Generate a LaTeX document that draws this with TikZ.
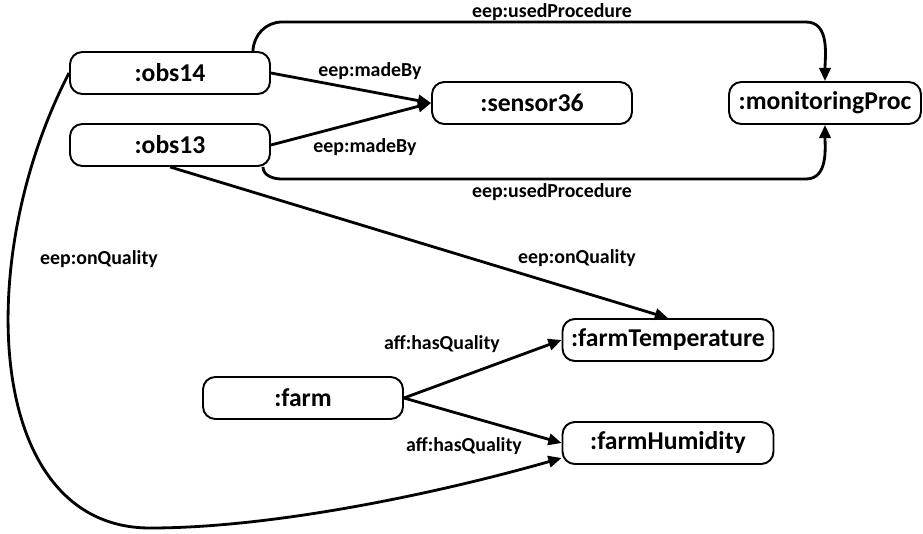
\documentclass[tikz,border=0pt]{standalone}
\usepackage{fontspec}
\setmainfont{Carlito}
\usepackage{tikz}
\usetikzlibrary{calc,arrows.meta,positioning}
\newcommand\BoxW{4cm}
\newcommand\BoxH{0.84cm}
\newcommand\WideW{4.22cm}
\tikzstyle{entity}=[rectangle,draw,line width=1.1pt,rounded corners=7pt,text centered,
                     font=\fontsize{14.6}{17}\selectfont\bfseries,
                     minimum height=\BoxH,minimum width=\BoxW,inner sep=0pt]
\tikzstyle{rel}=[line width=1.6pt,-{Triangle[length=7.5pt,width=6.5pt]}]
\tikzstyle{lbl}=[font=\fontsize{11.3}{13}\selectfont\bfseries,inner sep=0pt]

\begin{document}
\begin{tikzpicture}[x=0.02cm,y=-0.02cm]
      \useasboundingbox (0,0) rectangle (923,534);
      % entities
      \node[entity] (obs14) at (170,73) {:obs14};
      \node[entity] (obs13) at (170,145) {:obs13};
      \node[entity] (sensor) at (532,103) {:sensor36};
      \node[entity,minimum width=3.84cm] (proc) at (825,103) {:monitoringProc};
      \node[entity,minimum width=\WideW] (temp) at (668,340) {:farmTemperature};
      \node[entity,minimum width=\WideW] (hum) at (668,443) {:farmHumidity};
      \node[entity] (farm) at (303,398) {:farm};
      % bend points
      \coordinate (upL) at (282,22);
      \coordinate (upR) at (806,22);
      \coordinate (loL) at (282,179);
      \coordinate (loR) at (806,179);
      \coordinate (bot) at (150,528);
      % relations
      \draw[rel] (obs14.east) -- (sensor.west);
      \draw[rel] (obs13.east) -- (sensor.west);
      \draw[rel] ($(obs14.north east)+(-18,0)$) to[out=88,in=180] (upL) -- (upR) to[out=0,in=90] (proc.north);
      \draw[rel] ($(obs13.south east)+(-8,0)$) to[out=-88,in=180] (loL) -- (loR) to[out=0,in=-90] (proc.south);
      \draw[rel] (obs13.south) -- (temp.north);
      \draw[rel] (farm.east) -- (temp.west);
      \draw[rel] (farm.east) -- (hum.west);
      \draw[rel] (obs14.west) .. controls (-28,260) and (-15,528) .. (bot)
                 .. controls (280,528) and (450,490) .. ($(hum.west)+(0,15)$);
      % labels
      \node[lbl] (mb14) at (370,71) {eep:madeBy};
      \node[lbl] (mb13) at (365,147) {eep:madeBy};
      \node[lbl] (up14) at (552,12) {eep:usedProcedure};
      \node[lbl] (up13) at (552,192) {eep:usedProcedure};
      \node[lbl] (oq13) at (577,258) {eep:onQuality};
      \node[lbl] (oq14) at (99,259) {eep:onQuality};
      \node[lbl] (hqT) at (442,344) {aff:hasQuality};
      \node[lbl] (hqH) at (464,446) {aff:hasQuality};
\end{tikzpicture}
\end{document}
